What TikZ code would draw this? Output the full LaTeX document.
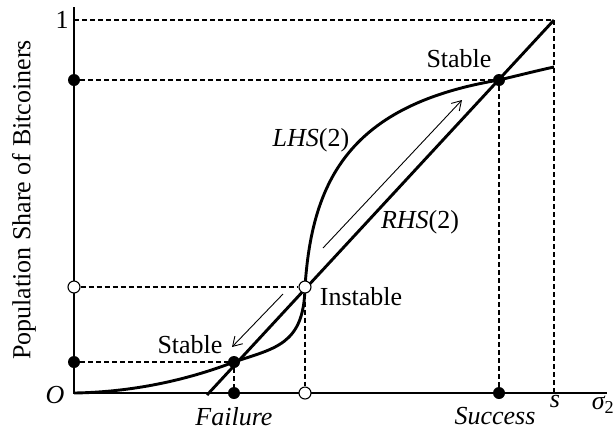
\documentclass[tikz,border=0pt]{standalone}
\usepackage{fontspec}
\setmainfont{Liberation Serif}
\usetikzlibrary{arrows.meta}
\pgfdeclarelayer{background}
\pgfsetlayers{background,main}
\tikzstyle{every node}=[font=\fontsize{26bp}{30bp}\selectfont,inner sep=0pt]
\tikzstyle{axis}=[line width=1.3bp]
\tikzstyle{guide}=[line width=1.1bp,dash pattern=on 5bp off 3bp]
\tikzstyle{curve}=[line width=2.9bp]
\tikzstyle{move}=[line width=0.9bp,-{Straight Barb[length=9bp,width=11bp]}]
\tikzstyle{dot}=[circle,fill=black,minimum size=12bp]
\tikzstyle{hole}=[circle,draw=black,fill=white,line width=1.1bp,minimum size=12bp]

\begin{document}
\begin{tikzpicture}[x=1bp,y=-1bp]
  \useasboundingbox (0,0) rectangle (616,431);

  \coordinate (O) at (74,393);
  \coordinate (ytop) at (74,7);
  \coordinate (xend) at (607,393);
  \coordinate (one) at (74,20);
  \coordinate (corner) at (554,20);
  \coordinate (sx) at (554,393);
  \coordinate (rhs0) at (207,395);
  \coordinate (lhs1) at (554,67);
  \coordinate (up0) at (323,248);
  \coordinate (up1) at (462,100);
  \coordinate (down0) at (283,294);
  \coordinate (down1) at (232,347);

  % equilibria and their projections
  \node[dot] (fail) at (234,362) {};
  \node[hole] (inst) at (305,287) {};
  \node[dot] (succ) at (499,80) {};
  \node[dot] (yfail) at (74,362) {};
  \node[dot] (xfail) at (234,393) {};
  \node[hole] (yinst) at (74,287) {};
  \node[hole] (xinst) at (305,393) {};
  \node[dot] (ysucc) at (74,80) {};
  \node[dot] (xsucc) at (499,393) {};

  % labels
  \node (lone) at (62,20) {1};
  \node (lO) at (55,395) {\itshape O};
  \node[rotate=90] (lshare) at (24,200) {Population Share of Bitcoiners};
  \node (lstabup) at (459,59) {Stable};
  \node (lstablow) at (190,345) {Stable};
  \node (linst) at (361,297) {Instable};
  \node (llhs) at (311,140) {\itshape LHS\/\upshape(2)};
  \node (lrhs) at (420,222) {\itshape RHS\/\upshape(2)};
  \node (lfail) at (234,417) {\itshape Failure};
  \node (lsucc) at (495,416) {\itshape Success};
  \node (ls) at (555,401) {\itshape s};
  \node (lsigma) at (603,405) {\itshape σ\upshape\textsubscript{2}};

  \begin{pgfonlayer}{background}
    \draw[axis] (ytop) -- (O) -- (xend);
    \draw[guide] (one) -- (corner) -- (sx);
    \draw[guide] (yfail) -- (fail) -- (xfail);
    \draw[guide] (yinst) -- (inst) -- (xinst);
    \draw[guide] (ysucc) -- (succ) -- (xsucc);
    \draw[curve] (rhs0) -- (corner);
    \draw[curve] (O) .. controls (140,392) and (195,377) .. (fail.center)
      .. controls (275,348) and (304,345) .. (inst.center)
      .. controls (312,180) and (350,105) .. (succ.center)
      .. controls (520,75) and (540,70) .. (lhs1);
    \draw[move] (up0) -- (up1);
    \draw[move] (down0) -- (down1);
  \end{pgfonlayer}
\end{tikzpicture}
\end{document}
